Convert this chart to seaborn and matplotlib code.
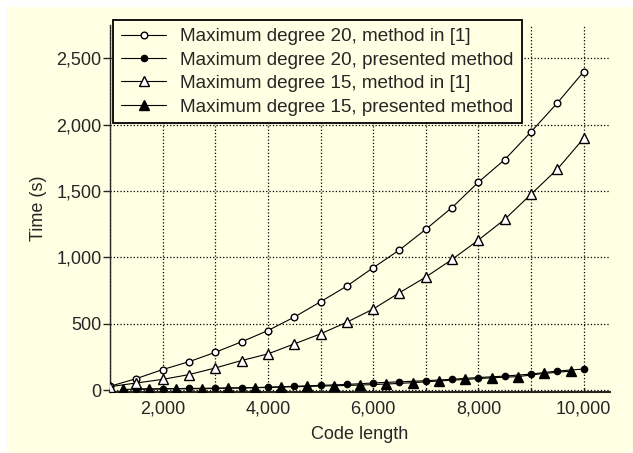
import numpy as np
import pandas as pd
import seaborn as sns
import matplotlib.pyplot as plt
from matplotlib.patches import Rectangle
from matplotlib.ticker import FuncFormatter, MultipleLocator

# data
x_full = [1000, 1500, 2000, 2500, 3000, 3500, 4000, 4500, 5000, 5500,
          6000, 6500, 7000, 7500, 8000, 8500, 9000, 9500, 10000]
deg20_ref = [28, 86, 154, 213, 284, 363, 448, 549, 665, 783,
             921, 1055, 1211, 1375, 1566, 1736, 1945, 2163, 2398]
deg15_ref = [25, 53, 80, 116, 166, 222, 272, 347, 423, 511,
             610, 733, 851, 984, 1130, 1286, 1475, 1664, 1896]

x_deg20_new = [1500, 2000, 2500, 3000, 3500, 4000, 4500, 5000, 5500, 6000,
               6500, 7000, 7500, 8000, 8500, 9000, 9500, 10000]
deg20_new = [8, 10, 12, 14, 17, 21, 28, 35, 42, 53,
             62, 70, 81, 94, 105, 120, 143, 158]

x_deg15_new = [1250, 1750, 2250, 2750, 3250, 3750, 4250, 4750, 5250,
               5750, 6250, 6750, 7250, 7750, 8250, 8750, 9250, 9750]
deg15_new = [5, 6, 9, 10, 14, 17, 22, 27, 32, 37, 45, 55, 68, 80, 92, 101, 125, 142]

labels = ['Maximum degree 20, method in [1]',
          'Maximum degree 20, presented method',
          'Maximum degree 15, method in [1]',
          'Maximum degree 15, presented method']

bg = '#FFFFE3'
sns.set_style('ticks')
plt.rcParams['font.family'] = ['Liberation Sans', 'DejaVu Sans']

fig = plt.figure(figsize=(6.33, 4.53), dpi=100, facecolor=bg)
# white strips along top and left edge of the original scan
fig.patches.append(Rectangle((0, 1 - 7 / 453), 1, 7 / 453, transform=fig.transFigure,
                             facecolor='white', edgecolor='none', zorder=-1))
fig.patches.append(Rectangle((0, 0), 7 / 633, 1, transform=fig.transFigure,
                             facecolor='white', edgecolor='none', zorder=-1))

ax = fig.add_axes([110 / 633, 1 - 392 / 453, 500 / 633, 367 / 453])
ax.set_facecolor(bg)

series = [
    (x_full, deg20_ref, 'o', 'white', 4.8),
    (x_deg20_new, deg20_new, 'o', 'black', 4.5),
    (x_full, deg15_ref, '^', 'white', 7),
    (x_deg15_new, deg15_new, '^', 'black', 6.5),
]
for (xs, ys, m, fc, ms), lab in zip(series, labels):
    sns.lineplot(x=xs, y=ys, ax=ax, color='black', lw=0.8, marker=m,
                 markerfacecolor=fc, markeredgecolor='black', markeredgewidth=1,
                 markersize=ms, label=lab, zorder=3)

ax.set_xlim(1000, 10500)
ax.set_ylim(-15, 2750)
ax.xaxis.set_major_locator(MultipleLocator(1000))
ax.yaxis.set_major_locator(MultipleLocator(500))
ax.xaxis.set_major_formatter(FuncFormatter(
    lambda v, p: f'{int(v):,}' if int(v) % 2000 == 0 and v > 1000 else ''))
ax.yaxis.set_major_formatter(FuncFormatter(lambda v, p: f'{int(v):,}'))
ax.grid(True, color='black', linestyle=':', linewidth=0.9)

sns.despine(ax=ax)
ax.spines['left'].set_linewidth(1.0)
ax.spines['bottom'].set_linewidth(1.5)
ax.tick_params(axis='y', direction='out', length=5, width=1, pad=1, labelsize=13)
ax.tick_params(axis='x', direction='in', length=3, width=1, pad=6, labelsize=13)

ax.set_xlabel('Code length', fontsize=13, labelpad=6)
ax.set_ylabel('Time (s)', fontsize=13, labelpad=7)

leg = ax.legend(loc='upper left', bbox_to_anchor=(113 / 633, 1 - 20 / 453),
                bbox_transform=fig.transFigure, fontsize=13.6, frameon=True,
                fancybox=False, edgecolor='black', facecolor=bg, framealpha=1,
                handlelength=2.4, handletextpad=0.75, labelspacing=0.33,
                borderpad=0.42, borderaxespad=0)
leg.get_frame().set_linewidth(1.3)

fig.savefig('out.png', dpi=100, facecolor=fig.get_facecolor())
